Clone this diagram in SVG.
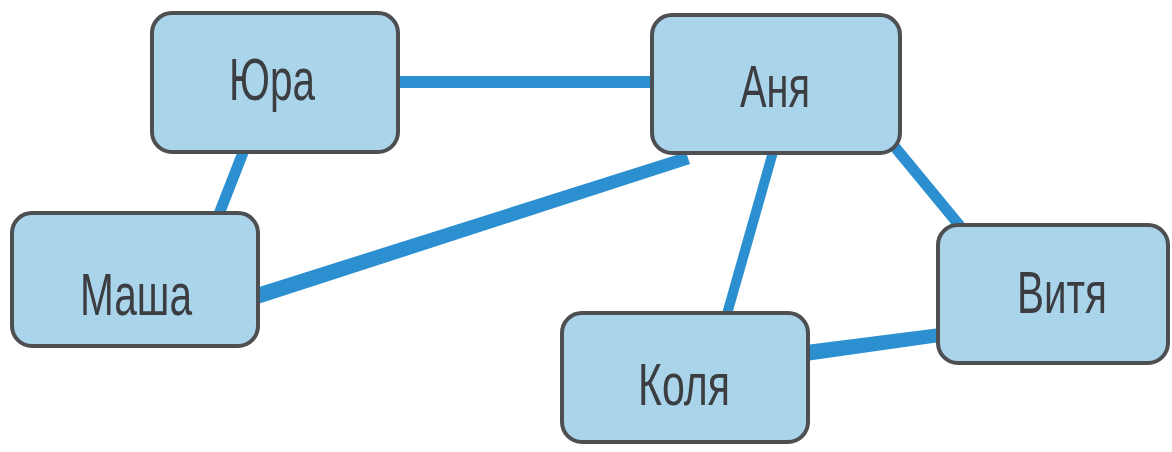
<svg xmlns="http://www.w3.org/2000/svg" width="1172" height="452" viewBox="0 0 1172 452">
  <style>
    .box { fill: #a9d4ea; stroke: #4d4f52; stroke-width: 4; }
    .label { font-family: "Liberation Sans", Arial, sans-serif; font-size: 60px; fill: #3b3d40; text-anchor: middle; }
    .link { stroke: #2b8fd0; stroke-linecap: butt; fill: none; }
  </style>
  <rect width="1172" height="452" fill="#ffffff"/>

  <g id="connectors">
    <line class="link" x1="398" y1="82" x2="652" y2="82" stroke-width="12"/>
    <line class="link" x1="244" y1="150" x2="219" y2="214" stroke-width="11"/>
    <path d="M256 288 L686 152 L690 164 L258 304 Z" fill="#2b8fd0"/>
    <line class="link" x1="773" y1="152" x2="727" y2="314" stroke-width="10"/>
    <line class="link" x1="894" y1="146" x2="960" y2="226" stroke-width="11"/>
    <path d="M806 345 L940 328 L940 342 L806 361 Z" fill="#2b8fd0"/>
  </g>

  <g id="node-yura">
    <rect class="box" x="152" y="13" width="246" height="139" rx="20"/>
    <text class="label" x="272" y="100" textLength="86" lengthAdjust="spacingAndGlyphs">Юра</text>
  </g>
  <g id="node-anya">
    <rect class="box" x="652" y="15" width="248" height="138" rx="20"/>
    <text class="label" x="775" y="107" textLength="70" lengthAdjust="spacingAndGlyphs">Аня</text>
  </g>
  <g id="node-masha">
    <rect class="box" x="12" y="213" width="246" height="133" rx="20"/>
    <text class="label" x="136" y="315" textLength="112" lengthAdjust="spacingAndGlyphs">Маша</text>
  </g>
  <g id="node-kolya">
    <rect class="box" x="562" y="313" width="246" height="129" rx="20"/>
    <text class="label" x="684" y="405" textLength="92" lengthAdjust="spacingAndGlyphs">Коля</text>
  </g>
  <g id="node-vitya">
    <rect class="box" x="938" y="225" width="230" height="138" rx="20"/>
    <text class="label" x="1062" y="313" textLength="90" lengthAdjust="spacingAndGlyphs">Витя</text>
  </g>
</svg>
